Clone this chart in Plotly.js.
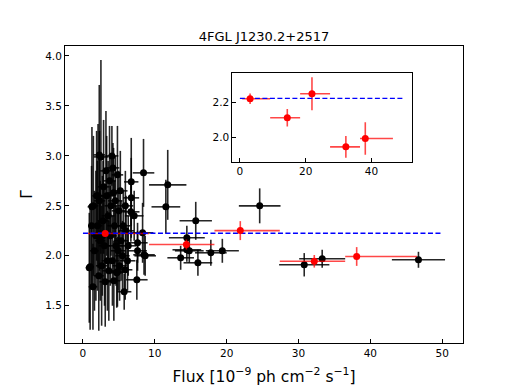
<!DOCTYPE html>
<html><head><meta charset="utf-8">
<script src="https://cdn.plot.ly/plotly-3.0.1.min.js"></script>
<style>html,body{margin:0;padding:0;background:#fff}#chart{width:515px;height:386px}</style>
</head><body><div id="chart"></div>
<script>
// Individual (black) points
const blackX = [2.5,1.25,1.45,0.88,1.39,2.87,4.17,4.8,4.26,8.43,6.72,6.72,6.67,7.13,8.3,7.6,7.6,8.66,7.5,5.74,4.8,2.27,4.03,1.0,3.1,5.88,4.7,8.5,2.0,2.3,3.5,3.0,2.6,3.8,4.4,5.0,5.3,5.5,4.9,6.0,6.3,3.3,3.7,2.1,1.8,1.6,3.4,4.1,3.9,4.5,5.2,5.6,2.8,2.4,3.2,4.6,6.2,5.9,1.9,2.7,4.3,3.6,2.2,1.2,5.1,11.8,11.54,15.7,14.46,14.46,14.8,13.6,16.0,17.8,19.4,24.6,30.8,33.3,46.7];
const blackY = [2.99,2.49,2.50,1.88,1.69,2.69,2.88,2.81,2.63,2.83,2.74,2.58,2.44,2.40,2.23,2.13,2.05,2.00,1.76,1.64,1.84,3.01,3.00,1.89,1.74,1.86,1.83,2.01,2.30,2.55,2.40,2.10,1.90,2.20,2.30,2.45,2.15,2.00,2.05,2.25,2.10,2.60,2.75,2.60,2.20,2.05,1.95,1.95,2.50,2.55,2.65,2.30,2.35,2.15,2.85,2.10,1.95,2.50,2.60,2.20,1.75,1.85,1.80,2.30,1.90,2.71,2.49,2.35,2.18,2.06,2.05,1.98,1.93,2.03,2.05,2.50,1.91,1.97,1.96];
const blackXerr = [1.0,0.6,0.7,0.5,0.6,0.8,0.9,0.8,0.9,1.5,1.0,1.1,1.2,1.3,1.5,1.4,1.3,1.5,1.5,1.0,0.9,0.8,0.9,0.5,0.8,1.0,0.9,1.5,0.7,0.8,0.9,0.8,0.8,0.9,1.0,1.0,1.0,1.0,1.0,1.1,1.1,0.9,0.9,0.7,0.6,0.6,0.8,0.9,0.9,1.0,1.0,1.0,0.8,0.7,0.8,1.0,1.1,1.1,0.6,0.8,0.9,0.9,0.7,0.5,1.0,2.6,2.0,2.25,2.5,2.0,2.0,1.85,2.0,2.2,2.3,2.9,3.5,3.2,3.7];
const blackYerr = [0.97,0.80,0.70,0.55,0.43,0.67,0.25,0.49,0.45,0.34,0.44,0.40,0.30,0.25,0.30,0.20,0.20,0.20,0.20,0.18,0.35,0.70,0.30,0.63,0.45,0.30,0.35,0.20,0.65,0.70,0.55,0.60,0.60,0.50,0.45,0.40,0.40,0.35,0.40,0.35,0.30,0.60,0.55,0.72,0.65,0.60,0.50,0.45,0.50,0.45,0.40,0.35,0.60,0.60,0.60,0.40,0.30,0.35,0.65,0.60,0.40,0.50,0.55,0.60,0.35,0.35,0.27,0.19,0.12,0.12,0.12,0.12,0.13,0.13,0.12,0.175,0.117,0.09,0.08];

// Binned (red) points
const redX = [3.1,14.4,21.9,32.2,38.1];
const redY = [2.223,2.113,2.252,1.945,1.993];
const redXminus = [2.4,5.2,3.6,4.8,1.6];
const redXplus = [6.1,3.9,5.5,4.3,8.4];
const redYerr = [0.03,0.05,0.095,0.063,0.094];

// Mean index line
const meanX = [0,50];
const meanY = [2.225,2.225];

const xTicksMain = [0,10,20,30,40,50];
const yTicksMain = [1.5,2.0,2.5,3.0,3.5,4.0];
const xTicksInset = [0,20,40];
const yTicksInset = [2.0,2.2];

const RED_BAR = 'rgba(255,0,0,0.72)';
const FONT = 'DejaVu Sans, sans-serif';

function redBars(xa, ya){
  return {x:redX, y:redY, xaxis:xa, yaxis:ya, mode:'markers', type:'scatter',
    marker:{size:7, color:'rgba(0,0,0,0)'},
    error_x:{type:'data', symmetric:false, array:redXplus, arrayminus:redXminus, color:RED_BAR, thickness:1.6, width:0},
    error_y:{type:'data', array:redYerr, color:RED_BAR, thickness:1.6, width:0}, hoverinfo:'skip'};
}
function meanLine(xa, ya){
  return {x:meanX, y:meanY, xaxis:xa, yaxis:ya, mode:'lines', type:'scatter',
    line:{color:'blue', dash:'5px,2.5px', width:1.4}};
}
function redDots(xa, ya){
  return {x:redX, y:redY, xaxis:xa, yaxis:ya, mode:'markers', type:'scatter',
    marker:{size:7, color:'red'}};
}

const traces = [
  {x:blackX, y:blackY, mode:'markers', type:'scatter',
   marker:{size:7, color:'black'},
   error_x:{type:'data', array:blackXerr, color:'rgba(0,0,0,0.85)', thickness:1.6, width:0},
   error_y:{type:'data', array:blackYerr, color:'rgba(0,0,0,0.85)', thickness:1.6, width:0}},
  redBars('x','y'), meanLine('x','y'), redDots('x','y'),
  redBars('x2','y2'), meanLine('x2','y2'), redDots('x2','y2')
];

const axBase = {showline:true, mirror:true, linecolor:'black', linewidth:1, ticks:'inside', ticklen:4,
  tickwidth:1, tickcolor:'black', showgrid:false, zeroline:false, tickfont:{family:FONT, size:10.5, color:'black'}};

const layout = {
  width:515, height:386, showlegend:false,
  margin:{l:65, r:52, t:46, b:43},
  paper_bgcolor:'white', plot_bgcolor:'white',
  font:{family:FONT, color:'black'},
  title:{text:'4FGL J1230.2+2517', font:{family:FONT, size:13, color:'black'}, x:0.5, xref:'paper', xanchor:'center', y:1, yref:'paper', yanchor:'bottom', pad:{b:5}},
  xaxis:Object.assign({}, axBase, {domain:[0,1], range:[-2.5,52.9], tickvals:xTicksMain, ticktext:xTicksMain.map(String),
    title:{text:'Flux [10<sup>\u22129</sup> ph cm<sup>\u22122</sup> s<sup>\u22121</sup>]', font:{family:FONT, size:15.5, color:'black'}, standoff:14}}),
  yaxis:Object.assign({}, axBase, {domain:[0,1], range:[1.127,4.10], tickvals:yTicksMain, ticktext:yTicksMain.map(v=>v.toFixed(1)),
    title:{text:'\u0393', font:{family:FONT, size:15.5, color:'black'}, standoff:8}}),
  xaxis2:Object.assign({}, axBase, {domain:[0.4204,0.8711], anchor:'y2', range:[-2.3,52.2], tickvals:xTicksInset, ticktext:xTicksInset.map(String)}),
  yaxis2:Object.assign({}, axBase, {domain:[0.6104,0.9081], anchor:'x2', range:[1.859,2.37], tickvals:yTicksInset, ticktext:yTicksInset.map(v=>v.toFixed(1))})
};

Plotly.newPlot('chart', traces, layout, {displayModeBar:false, staticPlot:true});
</script>
</body></html>
